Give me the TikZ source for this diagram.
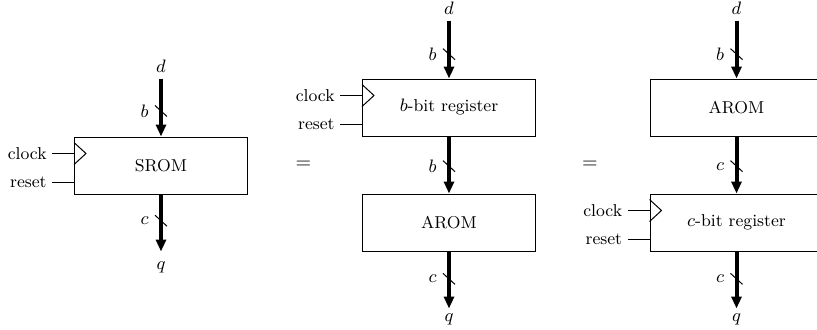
\documentclass[tikz,border=0pt]{standalone}
\usetikzlibrary{arrows.meta,positioning}

\tikzset{
    blk/.style={draw, line width=0.5pt, minimum width=86.5pt, minimum height=28.5pt, font=\fontsize{8.6}{10}\selectfont},
    bus/.style={line width=2pt, -{Triangle[width=5pt,length=6pt]}},
    sig/.style={inner sep=0pt, font=\fontsize{8.6}{10}\selectfont},
    pinlbl/.style={inner xsep=2.5pt, inner ysep=0pt, font=\fontsize{8.6}{10}\selectfont},
    wire/.style={line width=0.5pt},
}

\begin{document}
\begin{tikzpicture}[x=0.5pt, y=-0.5pt]
    \useasboundingbox (0,0) rectangle (817,329);
    % blocks
    \node[blk] (srom)  at (161,165.5)   {SROM};
    \node[blk] (breg)  at (449,107.5)   {$b$-bit register};
    \node[blk] (arom)  at (449,222.5)   {AROM};
    \node[blk] (arom2) at (736.5,107.5) {AROM};
    \node[blk] (creg)  at (736.5,222.5) {$c$-bit register};
    % d in, q out
    \node[sig, outer sep=3pt, above=29pt of srom]  (srom-d)  {$d$};
    \node[sig, outer sep=5pt, below=28.5pt of srom] (srom-q)  {$q$};
    \node[sig, outer sep=3pt, above=29pt of breg]  (breg-d)  {$d$};
    \node[sig, outer sep=2.5pt, below=28.5pt of arom] (arom-q)  {$q$};
    \node[sig, outer sep=3pt, above=29pt of arom2] (arom2-d) {$d$};
    \node[sig, outer sep=2.5pt, below=28.5pt of creg] (creg-q)  {$q$};
    % equals
    \node (eq1) at (303.5,165) {$=$};
    \node (eq2) at (590,165)   {$=$};
    % buses with width marks
    \foreach \from/\to/\w/\p [count=\i] in {srom-d/srom/b/0.56, srom/srom-q/c/0.46,
            breg-d/breg/b/0.58, breg/arom/b/0.52, arom/arom-q/c/0.48,
            arom2-d/arom2/b/0.58, arom2/creg/c/0.52, creg/creg-q/c/0.48}{
        \draw[bus] (\from) -- coordinate[pos=\p] (w\i) (\to);
        \draw[wire] ([shift={(-6,-5.5)}]w\i) -- ([shift={(6,5.5)}]w\i);
        \node[sig, left=6pt of w\i] (wl\i) {$\w$};
    }
    % clock and reset pins
    \foreach \blk in {srom,breg,creg}{
        \coordinate (\blk-clk) at ([yshift=-8.5pt]\blk.north west);
        \coordinate (\blk-rst) at ([yshift=-23pt]\blk.north west);
        \draw[wire] ([yshift=-3pt]\blk.north west) -- ([xshift=6pt]\blk-clk) -- ([yshift=-14pt]\blk.north west);
        \node[pinlbl, left=11pt of \blk-clk] (\blk-clkin) {clock};
        \node[pinlbl, left=11pt of \blk-rst] (\blk-rstin) {reset};
        \draw[wire] (\blk-clkin) -- (\blk-clk);
        \draw[wire] (\blk-rstin) -- (\blk-rst);
    }
\end{tikzpicture}
\end{document}
